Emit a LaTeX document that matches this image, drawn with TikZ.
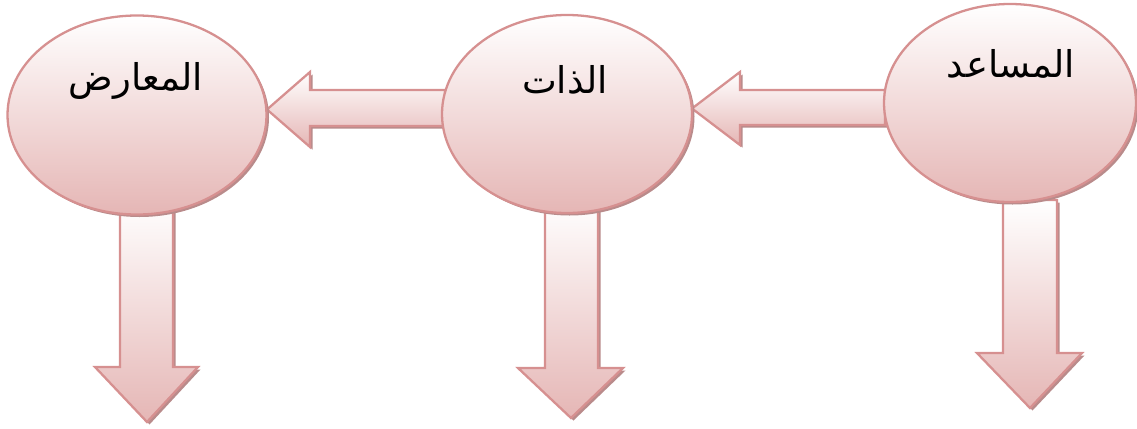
\documentclass[tikz,border=0pt]{standalone}
\usepackage{fontspec}
\usepackage{xcolor}
\usetikzlibrary{shadows,shapes.geometric}
\TeXXeTstate=1
\newfontfamily\arabicfont[Script=Arabic]{DejaVu Sans}
\definecolor{RoleLine}{HTML}{D69090}
\definecolor{RoleBottom}{HTML}{E5B6B5}
\definecolor{RoleShadow}{HTML}{B98B8B}
\tikzset{
  roleshade/.style={top color=white,bottom color=RoleBottom,draw=RoleLine,line width=1.3pt,
    drop shadow={shadow xshift=0.05cm,shadow yshift=-0.05cm,fill=RoleShadow,opacity=1}},
  role/.style={roleshade,ellipse,inner sep=0pt},
  rolename/.style={font=\arabicfont\fontsize{21}{25}\selectfont}
}

\begin{document}
\begin{tikzpicture}[x=1cm,y=1cm]
\path[use as bounding box] (0,0) rectangle (22.74,8.56);
% block arrows under the ellipses
\path[roleshade] (5.34,6.37) -- (6.20,7.12) -- (6.20,6.76) -- (8.90,6.76) -- (8.90,6.04) -- (6.20,6.04) -- (6.20,5.62) -- cycle;
\path[roleshade] (13.84,6.39) -- (14.80,7.12) -- (14.80,6.76) -- (17.70,6.76) -- (17.70,6.06) -- (14.80,6.06) -- (14.80,5.66) -- cycle;
\path[roleshade] (2.40,4.56) -- (3.46,4.56) -- (3.46,1.22) -- (3.96,1.22) -- (2.94,0.12) -- (1.90,1.22) -- (2.40,1.22) -- cycle;
\path[roleshade] (10.90,4.56) -- (11.96,4.56) -- (11.96,1.20) -- (12.46,1.20) -- (11.42,0.20) -- (10.36,1.20) -- (10.90,1.20) -- cycle;
\path[roleshade] (20.06,4.56) -- (21.14,4.56) -- (21.14,1.50) -- (21.64,1.50) -- (20.60,0.40) -- (19.54,1.50) -- (20.06,1.50) -- cycle;
% the three actants
\node[role,minimum width=5.18cm,minimum height=3.98cm] (opponent) at (2.74,6.26) {};
\node[role,minimum width=5.00cm,minimum height=3.96cm] (subject) at (11.34,6.28) {};
\node[role,minimum width=5.04cm,minimum height=3.96cm] (helper) at (20.20,6.50) {};
\node[rolename] (opponentname) at (2.72,6.94) {\beginR المعارض\endR};
\node[rolename] (subjectname) at (11.30,6.96) {\beginR الذات\endR};
\node[rolename] (helpername) at (20.22,7.28) {\beginR المساعد\endR};
\end{tikzpicture}
\end{document}
